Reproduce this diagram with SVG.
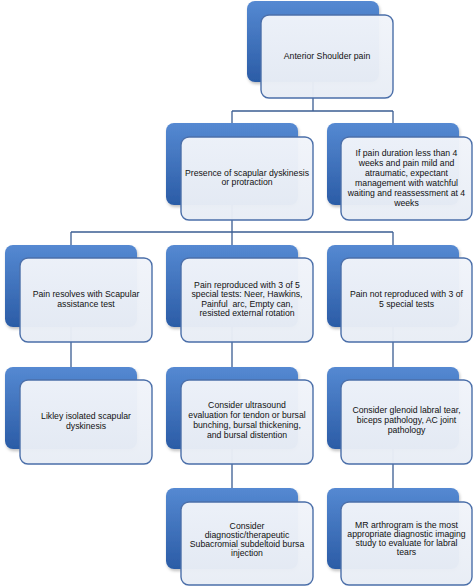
<svg xmlns="http://www.w3.org/2000/svg" width="474" height="586" viewBox="0 0 474 586">
<defs>
<linearGradient id="bg" x1="0" y1="0" x2="0" y2="1">
<stop offset="0" stop-color="#5589d2"/>
<stop offset="1" stop-color="#2b5ca6"/>
</linearGradient>
<linearGradient id="fg" x1="0" y1="0" x2="0" y2="1">
<stop offset="0" stop-color="#f1f4fa"/>
<stop offset="1" stop-color="#e8edf5"/>
</linearGradient>
<filter id="sh" x="-10%" y="-10%" width="125%" height="125%">
<feDropShadow dx="1" dy="2" stdDeviation="1.5" flood-color="#000" flood-opacity="0.25"/>
</filter>
</defs>
<style>
.back{fill:url(#bg);filter:url(#sh)}
.front{fill:url(#fg);fill-opacity:0.97;stroke:#4b6fa9;stroke-width:1.4}
.conn{fill:none;stroke:#3b5d93;stroke-width:1.3}
text{font-family:"Liberation Sans",Arial,sans-serif;font-size:8.7px;fill:#111;text-anchor:middle;white-space:pre}
</style>
<rect width="474" height="586" fill="#ffffff"/>
<g id="connectors" class="conn">
<path d="M313,82 V111 M232,111 H393 M232,111 V123 M393,111 V123"/>
<path d="M232,205 V245 M71,232 H393 M71,232 V245 M393,232 V245"/>
<path d="M71,327 V367 M232,327 V367 M393,327 V367"/>
<path d="M232,449 V488 M393,449 V488"/>
</g>
<g id="n-anterior">
<rect class="back" x="247" y="1" width="132" height="81" rx="8"/>
<rect class="front" x="261" y="15" width="132" height="83" rx="8"/>
<text x="327" y="59">Anterior Shoulder pain</text>
</g>
<g id="n-presence">
<rect class="back" x="166" y="123" width="132" height="82" rx="8"/>
<rect class="front" x="181" y="137" width="132" height="83" rx="8"/>
<text x="247" y="175.5">Presence of scapular dyskinesis<tspan x="247" dy="9.8">or protraction</tspan></text>
</g>
<g id="n-duration">
<rect class="back" x="327" y="123" width="132" height="82" rx="8"/>
<rect class="front" x="341" y="137" width="131" height="83" rx="8"/>
<text x="406.5" y="155.5">If pain duration less than 4<tspan x="406.5" dy="10">weeks and pain mild and</tspan><tspan x="406.5" dy="10">atraumatic, expectant</tspan><tspan x="406.5" dy="10">management with watchful</tspan><tspan x="406.5" dy="10">waiting and reassessment at 4</tspan><tspan x="406.5" dy="10">weeks</tspan></text>
</g>
<g id="n-resolves">
<rect class="back" x="5" y="245" width="132" height="82" rx="8"/>
<rect class="front" x="20" y="258" width="132" height="84" rx="8"/>
<text x="86" y="297">Pain resolves with Scapular<tspan x="86" dy="9.6">assistance test</tspan></text>
</g>
<g id="n-reproduced">
<rect class="back" x="166" y="245" width="132" height="82" rx="8"/>
<rect class="front" x="181" y="258" width="132" height="84" rx="8"/>
<text x="247" y="288" xml:space="preserve">Pain reproduced with 3 of 5<tspan x="247" dy="9.4">special tests: Neer, Hawkins,</tspan><tspan x="247" dy="9.4">Painful  arc, Empty can,</tspan><tspan x="247" dy="9.4">resisted external rotation</tspan></text>
</g>
<g id="n-notreproduced">
<rect class="back" x="327" y="245" width="132" height="82" rx="8"/>
<rect class="front" x="341" y="258" width="131" height="84" rx="8"/>
<text x="406.5" y="297">Pain not reproduced with 3 of<tspan x="406.5" dy="9.6">5 special tests</tspan></text>
</g>
<g id="n-likley">
<rect class="back" x="5" y="367" width="132" height="82" rx="8"/>
<rect class="front" x="20" y="380" width="132" height="84" rx="8"/>
<text x="86" y="419">Likley isolated scapular<tspan x="86" dy="10">dyskinesis</tspan></text>
</g>
<g id="n-ultrasound">
<rect class="back" x="166" y="367" width="132" height="82" rx="8"/>
<rect class="front" x="181" y="380" width="132" height="84" rx="8"/>
<text x="247" y="408">Consider ultrasound<tspan x="247" dy="10">evaluation for tendon or bursal</tspan><tspan x="247" dy="10">bunching, bursal thickening,</tspan><tspan x="247" dy="10">and bursal distention</tspan></text>
</g>
<g id="n-glenoid">
<rect class="back" x="327" y="367" width="132" height="82" rx="8"/>
<rect class="front" x="341" y="380" width="131" height="84" rx="8"/>
<text x="406.5" y="413">Consider glenoid labral tear,<tspan x="406.5" dy="10">biceps pathology, AC joint</tspan><tspan x="406.5" dy="10">pathology</tspan></text>
</g>
<g id="n-injection">
<rect class="back" x="166" y="488" width="132" height="81" rx="8"/>
<rect class="front" x="181" y="502" width="132" height="83" rx="8"/>
<text x="247" y="529">Consider<tspan x="247" dy="9">diagnostic/therapeutic</tspan><tspan x="247" dy="9">Subacromial subdeltoid bursa</tspan><tspan x="247" dy="9">injection</tspan></text>
</g>
<g id="n-mr">
<rect class="back" x="327" y="488" width="132" height="81" rx="8"/>
<rect class="front" x="341" y="502" width="131" height="83" rx="8"/>
<text x="406.5" y="528">MR arthrogram is the most<tspan x="406.5" dy="9">appropriate diagnostic imaging</tspan><tspan x="406.5" dy="9">study to evaluate for labral</tspan><tspan x="406.5" dy="9">tears</tspan></text>
</g>
</svg>
